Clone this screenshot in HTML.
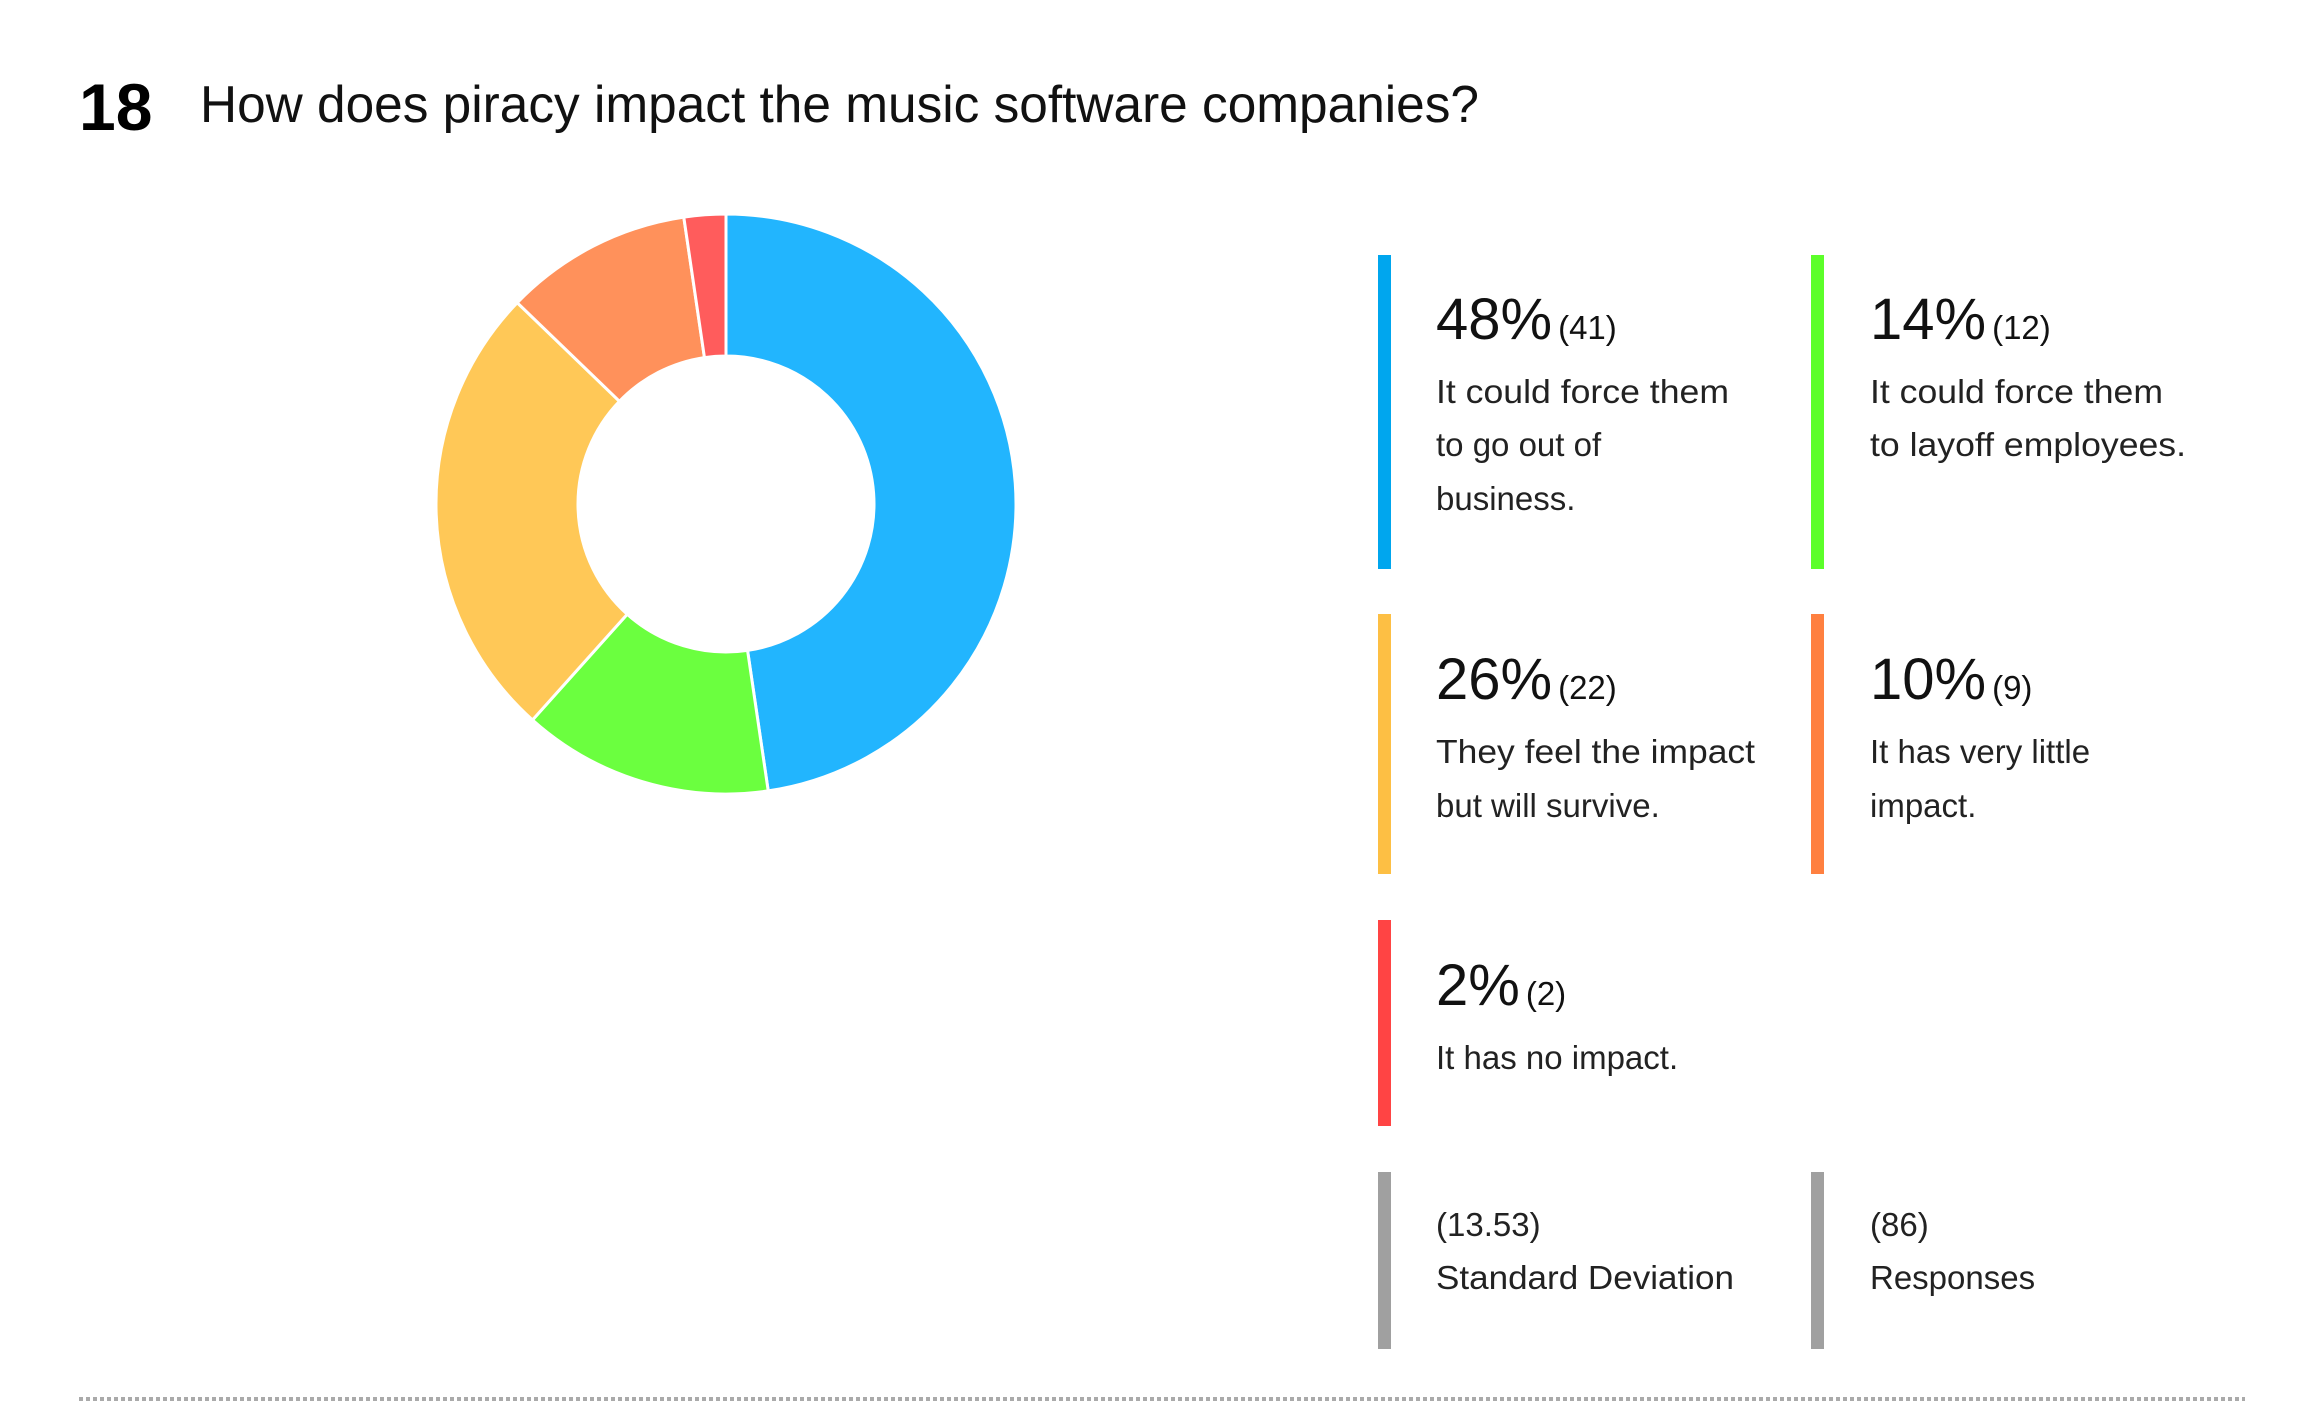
<!DOCTYPE html>
<html><head><meta charset="utf-8"><style>
html,body{margin:0;padding:0;background:#fff;}
svg{display:block;font-family:"Liberation Sans",sans-serif;}
.pct{font-size:58px;fill:#111;}
.cnt{font-size:33px;fill:#111;}
.body{font-size:33px;fill:#222;}
</style></head><body>
<svg id="chart" width="2300" height="1425" viewBox="0 0 2300 1425">
<text x="79" y="130" font-size="66" font-weight="bold" fill="#000">18</text>
<text x="200" y="122" font-size="52" fill="#111" textLength="1279" lengthAdjust="spacingAndGlyphs">How does piracy impact the music software companies?</text>
<g id="donut"></g>

<g>
<g>
<rect x="1378" y="255" width="13" height="314" fill="#00a6ee"/>
<text x="1436" y="339"><tspan class="pct">48%</tspan><tspan class="cnt" dx="6">(41)</tspan></text>
<text class="body" x="1436" y="403" textLength="293" lengthAdjust="spacingAndGlyphs">It could force them</text>
<text class="body" x="1436" y="456">to go out of</text>
<text class="body" x="1436" y="510">business.</text>
</g>
<g>
<rect x="1811" y="255" width="13" height="314" fill="#5cff2a"/>
<text x="1870" y="339"><tspan class="pct">14%</tspan><tspan class="cnt" dx="6">(12)</tspan></text>
<text class="body" x="1870" y="403" textLength="293" lengthAdjust="spacingAndGlyphs">It could force them</text>
<text class="body" x="1870" y="456" textLength="316" lengthAdjust="spacingAndGlyphs">to layoff employees.</text>
</g>
<g>
<rect x="1378" y="614" width="13" height="260" fill="#fdbf44"/>
<text x="1436" y="699"><tspan class="pct">26%</tspan><tspan class="cnt" dx="6">(22)</tspan></text>
<text class="body" x="1436" y="763" textLength="319" lengthAdjust="spacingAndGlyphs">They feel the impact</text>
<text class="body" x="1436" y="817">but will survive.</text>
</g>
<g>
<rect x="1811" y="614" width="13" height="260" fill="#ff8040"/>
<text x="1870" y="699"><tspan class="pct">10%</tspan><tspan class="cnt" dx="6">(9)</tspan></text>
<text class="body" x="1870" y="763">It has very little</text>
<text class="body" x="1870" y="817">impact.</text>
</g>
<g>
<rect x="1378" y="920" width="13" height="206" fill="#ff4444"/>
<text x="1436" y="1005"><tspan class="pct">2%</tspan><tspan class="cnt" dx="6">(2)</tspan></text>
<text class="body" x="1436" y="1069">It has no impact.</text>
</g>
<g>
<rect x="1378" y="1172" width="13" height="177" fill="#a0a0a0"/>
<text class="body" x="1436" y="1236">(13.53)</text>
<text class="body" x="1436" y="1289" textLength="298" lengthAdjust="spacingAndGlyphs">Standard Deviation</text>
</g>
<g>
<rect x="1811" y="1172" width="13" height="177" fill="#a0a0a0"/>
<text class="body" x="1870" y="1236">(86)</text>
<text class="body" x="1870" y="1289">Responses</text>
</g>
</g>
<line x1="79" y1="1399" x2="2245" y2="1399" stroke="#aaa" stroke-width="4" stroke-dasharray="4 3"/>
</svg>
<script>
const categories = ["out-of-business","layoff","feel-impact","little-impact","no-impact"];
const counts = [41, 12, 22, 9, 2];
const colors = ["#22b5fe","#6bff3f","#ffc857","#ff915b","#ff5c5c"];
const cx = 726, cy = 504, R = 290, r = 148;
const total = counts.reduce((a,b)=>a+b,0);
function angle(v){ return v / total * 2 * Math.PI; }
function pt(rad, a){ return [cx + rad*Math.sin(a), cy - rad*Math.cos(a)]; }
const g = document.getElementById('donut');
let acc = 0;
counts.forEach((v,i)=>{
  const a0 = angle(acc), a1 = angle(acc+v); acc += v;
  const large = (a1-a0) > Math.PI ? 1 : 0;
  const [x0,y0]=pt(R,a0),[x1,y1]=pt(R,a1),[x2,y2]=pt(r,a1),[x3,y3]=pt(r,a0);
  const p = document.createElementNS('http://www.w3.org/2000/svg','path');
  p.setAttribute('d',`M${x0},${y0} A${R},${R} 0 ${large} 1 ${x1},${y1} L${x2},${y2} A${r},${r} 0 ${large} 0 ${x3},${y3} Z`);
  p.setAttribute('fill',colors[i]);
  p.setAttribute('stroke','#fff');
  p.setAttribute('stroke-width','3');
  
  
  g.appendChild(p);
});
</script>
</body></html>
